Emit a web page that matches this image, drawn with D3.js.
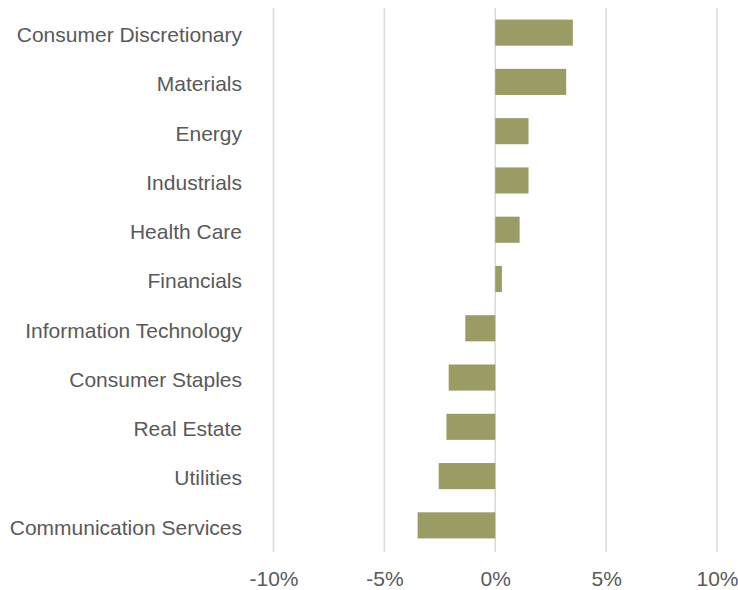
<!DOCTYPE html>
<html>
<head>
<meta charset="utf-8">
<script src="https://cdn.jsdelivr.net/npm/d3@7"></script>
<style>
  body { margin: 0; background: #fff; }
  text { font-family: "Liberation Sans", Arial, sans-serif; fill: #595959; }
</style>
</head>
<body>
<svg id="chart" width="738" height="590"></svg>
<script>
var sectors = ["Consumer Discretionary", "Materials", "Energy", "Industrials", "Health Care",
  "Financials", "Information Technology", "Consumer Staples", "Real Estate", "Utilities",
  "Communication Services"];
var returns = [3.5, 3.2, 1.5, 1.5, 1.1, 0.3, -1.35, -2.1, -2.2, -2.55, -3.5];
var tickValues = [-10, -5, 0, 5, 10];

var svg = d3.select('#chart');

var x = d3.scaleLinear()
	.domain([-10, 10])
	.range([273.5, 717]);

var y = d3.scaleBand()
	.domain(sectors)
	.range([8, 550])
	.paddingInner(0.47)
	.paddingOuter(0.235);

// gridlines
svg.selectAll('.grid')
	.data(tickValues)
	.enter().append('line')
	.attr('x1', function(d) { return x(d); })
	.attr('x2', function(d) { return x(d); })
	.attr('y1', 8)
	.attr('y2', 552)
	.attr('stroke', '#d9d9d9')
	.attr('stroke-width', 1.5);

// bars
svg.selectAll('.bar')
	.data(returns)
	.enter().append('rect')
	.attr('x', function(d) { return x(Math.min(0, d)); })
	.attr('width', function(d) { return Math.abs(x(d) - x(0)); })
	.attr('y', function(d, i) { return y(sectors[i]); })
	.attr('height', y.bandwidth())
	.attr('fill', '#9a9c64');

// category labels
svg.selectAll('.label')
	.data(sectors)
	.enter().append('text')
	.attr('x', 242)
	.attr('y', function(d) { return y(d) + y.bandwidth() / 2 + 2; })
	.attr('dy', '0.35em')
	.attr('text-anchor', 'end')
	.style('font-size', '21px')
	.text(function(d) { return d; });

// x axis labels
var xAxis = d3.axisBottom(x)
	.tickValues(tickValues)
	.tickSize(0)
	.tickPadding(0)
	.tickFormat(function(d) { return d + '%'; });

var gx = svg.append('g')
	.attr('transform', 'translate(0,571)')
	.call(xAxis);
gx.select('.domain').remove();
gx.selectAll('text')
	.style('font-size', '21px')
	.style('font-family', '"Liberation Sans", Arial, sans-serif')
	.attr('fill', '#595959');
</script>
</body>
</html>
